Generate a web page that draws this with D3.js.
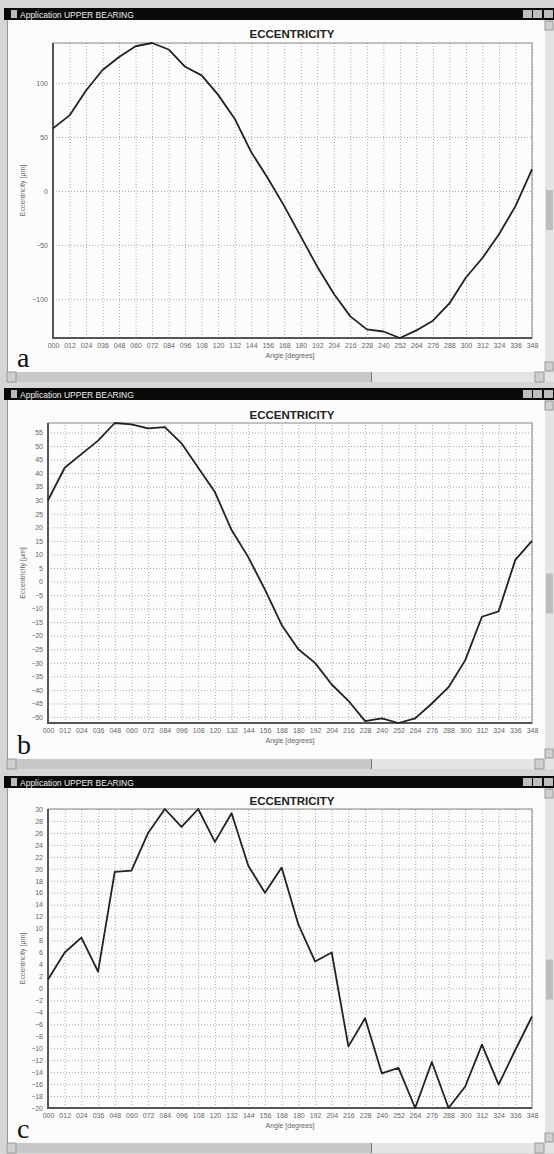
<!DOCTYPE html>
<html lang="en">
<head>
<meta charset="UTF-8">
<title>Eccentricity</title>
<style>
  body { margin: 0; background: #fff; }
  svg { display: block; }
  text { font-family: "Liberation Sans", Arial, sans-serif; }
</style>
</head>
<body>
<script src="https://cdn.jsdelivr.net/npm/d3@7"></script>
<script>
  let width = 554;
  let height = 1154;

  // angle categories (degrees)
  const angles = [0, 12, 24, 36, 48, 60, 72, 84, 96, 108, 120, 132, 144, 156, 168,
                  180, 192, 204, 216, 228, 240, 252, 264, 276, 288, 300, 312, 324, 336, 348];

  // eccentricity [um]
  const eccA = [58, 70, 93, 112, 124, 134, 137, 131, 115, 107, 89, 67, 36, 12, -14,
                -42, -70, -95, -116, -128, -130, -136, -129, -120, -104, -80, -62, -40, -14, 20];
  const eccB = [30, 42, 47, 52, 58.5, 58, 56.5, 57, 51, 42, 33, 19, 9, -3, -16,
                -25, -30, -38, -44, -51.5, -50.5, -52.2, -50.5, -45, -39, -29, -13, -11, 8, 15];
  const eccC = [1.5, 6, 8.5, 2.8, 19.5, 19.7, 26, 30, 27, 30, 24.5, 29.3, 20.5, 16, 20.2,
                10.7, 4.5, 6, -9.7, -5, -14.2, -13.3, -20, -12.3, -20, -16.4, -9.4, -16.1, -10.3, -4.7];

  // y tick labels
  const ticksA = [-100, -50, 0, 50, 100];
  const ticksB = [-50, -45, -40, -35, -30, -25, -20, -15, -10, -5, 0, 5, 10, 15, 20, 25, 30, 35, 40, 45, 50, 55];
  const ticksC = [-20, -18, -16, -14, -12, -10, -8, -6, -4, -2, 0, 2, 4, 6, 8, 10, 12, 14, 16, 18, 20, 22, 24, 26, 28, 30];

  const winTitle = "Application UPPER BEARING";
  const chartTitle = "ECCENTRICITY";
  const xTitle = "Angle [degrees]";
  const yTitle = "Eccentricity [µm]";

  const panels = [
    { letter: "a", values: eccA, ticks: ticksA, top: 0, bottom: 384, bar: 8, title: 38,
      plot: { l: 53, r: 532, t: 43, b: 338 }, scroll: 372 },
    { letter: "b", values: eccB, ticks: ticksB, top: 384, bottom: 770, bar: 388, title: 419,
      plot: { l: 48, r: 532, t: 423, b: 723 }, scroll: 759 },
    { letter: "c", values: eccC, ticks: ticksC, top: 770, bottom: 1154, bar: 776, title: 805,
      plot: { l: 48, r: 532, t: 809, b: 1108 }, scroll: 1143 }
  ];

  let svg = d3.select("body")
              .append("svg")
              .attr("width", width)
              .attr("height", height);

  panels.forEach(function (p) {
    const g = svg.append("g");

    // window frame
    g.append("rect").attr("x", 0).attr("y", p.top).attr("width", width).attr("height", p.bottom - p.top)
      .style("fill", "#d6d6d6");
    g.append("rect").attr("x", 7).attr("y", p.bar + 12).attr("width", 538).attr("height", p.scroll - p.bar - 12)
      .style("fill", "#fcfcfc");
    g.append("line").attr("x1", 7.5).attr("x2", 7.5).attr("y1", p.bar + 12).attr("y2", p.scroll)
      .style("stroke", "#999");

    // title bar
    g.append("rect").attr("x", 4).attr("y", p.bar).attr("width", 550).attr("height", 12).style("fill", "#0a0a0a");
    g.append("rect").attr("x", 11).attr("y", p.bar + 2).attr("width", 6).attr("height", 8).style("fill", "#bbb");
    g.append("text").attr("x", 20).attr("y", p.bar + 9.5).text(winTitle)
      .style("fill", "#eee").style("font-size", "8.5px");
    [523, 533, 544].forEach(function (bx) {
      g.append("rect").attr("x", bx).attr("y", p.bar + 2).attr("width", 9).attr("height", 8).style("fill", "#bdbdbd");
    });

    // scrollbars
    g.append("rect").attr("x", 7).attr("y", p.scroll).attr("width", 538).attr("height", 10).style("fill", "#e4e4e4");
    g.append("rect").attr("x", 16).attr("y", p.scroll).attr("width", 355).attr("height", 10).style("fill", "#c8c8c8");
    g.append("line").attr("x1", 371.5).attr("x2", 371.5).attr("y1", p.scroll).attr("y2", p.scroll + 10).style("stroke", "#777");
    g.append("rect").attr("x", 7).attr("y", p.scroll).attr("width", 9).attr("height", 10).style("fill", "#d0d0d0").style("stroke", "#999");
    g.append("rect").attr("x", 535).attr("y", p.scroll).attr("width", 9).attr("height", 10).style("fill", "#d0d0d0").style("stroke", "#999");
    g.append("rect").attr("x", 545).attr("y", p.bar + 12).attr("width", 9).attr("height", p.scroll - p.bar - 2)
      .style("fill", "#e4e4e4");
    g.append("rect").attr("x", 545).attr("y", p.bar + 13).attr("width", 8).attr("height", 9).style("fill", "#d0d0d0").style("stroke", "#999");
    g.append("rect").attr("x", 545).attr("y", p.scroll - 10).attr("width", 8).attr("height", 9).style("fill", "#d0d0d0").style("stroke", "#999");
    g.append("rect").attr("x", 546).attr("y", (p.bar + p.scroll) / 2).attr("width", 7).attr("height", 40).style("fill", "#bdbdbd");

    const x = d3.scaleLinear().domain([0, 348]).range([p.plot.l, p.plot.r]);
    const y = d3.scaleLinear().domain(d3.extent(p.values)).range([p.plot.b, p.plot.t]);
    const w = p.plot.r - p.plot.l;
    const h = p.plot.b - p.plot.t;

    // grid + tick labels
    const xAxis = g.append("g").attr("transform", "translate(0," + p.plot.b + ")")
      .call(d3.axisBottom(x).tickValues(angles).tickFormat(d3.format("03d")).tickSize(-h).tickPadding(5));
    const yAxis = g.append("g").attr("transform", "translate(" + p.plot.l + ",0)")
      .call(d3.axisLeft(y).tickValues(p.ticks).tickSize(-w).tickPadding(5));
    [xAxis, yAxis].forEach(function (ax) {
      ax.select(".domain").remove();
      ax.selectAll("line").style("stroke", "#aaa").style("stroke-dasharray", "1,2");
      ax.selectAll("text").style("fill", "#666").style("font-size", "7px");
    });

    // frame
    g.append("rect").attr("x", p.plot.l).attr("y", p.plot.t).attr("width", w).attr("height", h)
      .style("fill", "none").style("stroke", "#888");
    g.append("path").attr("d", "M" + p.plot.l + "," + p.plot.t + "V" + p.plot.b + "H" + p.plot.r)
      .style("fill", "none").style("stroke", "#555").style("stroke-width", 2);

    // eccentricity line
    const line = d3.line().x(function (d, i) { return x(angles[i]); }).y(function (d) { return y(d); });
    g.append("path").datum(p.values).attr("d", line)
      .style("fill", "none").style("stroke", "#222").style("stroke-width", 1.8).style("stroke-linejoin", "round");

    // texts
    g.append("text").attr("x", 292).attr("y", p.title).attr("text-anchor", "middle").text(chartTitle)
      .style("font-size", "11.5px").style("font-weight", "bold").style("fill", "#222");
    g.append("text").attr("x", 290).attr("y", p.plot.b + 20).attr("text-anchor", "middle").text(xTitle)
      .style("font-size", "7px").style("fill", "#666");
    g.append("text").attr("transform", "translate(25," + (p.plot.t + h / 2) + ") rotate(-90)")
      .attr("text-anchor", "middle").text(yTitle)
      .style("font-size", "7px").style("fill", "#666");
    g.append("text").attr("x", 17).attr("y", p.scroll - 5).text(p.letter)
      .style("font-family", "'Liberation Serif', 'Times New Roman', serif").style("font-size", "28px").style("fill", "#111");
  });
</script>
</body>
</html>
